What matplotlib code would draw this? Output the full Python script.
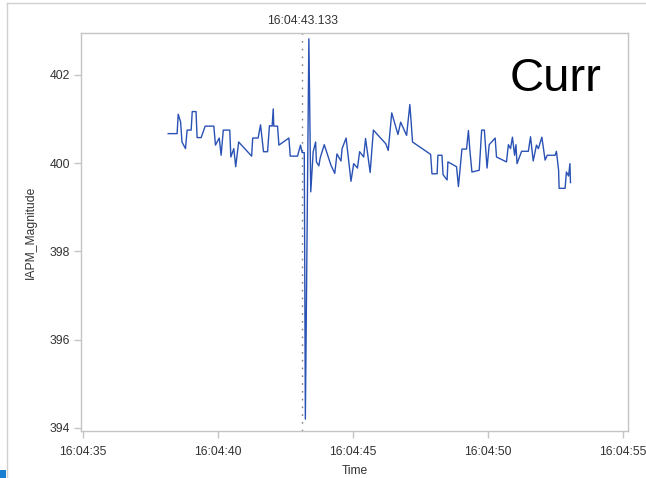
import matplotlib.pyplot as plt
from matplotlib.ticker import FuncFormatter, FixedLocator
from matplotlib.patches import Rectangle
from matplotlib.lines import Line2D

plt.rcParams['font.family'] = ['Liberation Sans', 'DejaVu Sans']

# sample times, seconds past 16:04:00
secs = [38.16, 38.49, 38.53, 38.62, 38.67, 38.80, 38.86, 39.01, 39.05, 39.19,
        39.23, 39.38, 39.53, 39.85, 39.91, 40.05, 40.12, 40.20, 40.44, 40.48,
        40.59, 40.66, 40.77, 41.25, 41.29, 41.49, 41.58, 41.69, 41.84, 41.91,
        42.01, 42.05, 42.07, 42.21, 42.26, 42.63, 42.68, 42.95, 43.06, 43.12,
        43.20, 43.24, 43.37, 43.44, 43.53, 43.62, 43.65, 43.74, 43.79, 43.94,
        44.19, 44.33, 44.41, 44.56, 44.60, 44.75, 44.93, 45.03, 45.17, 45.25,
        45.40, 45.47, 45.64, 45.76, 46.22, 46.31, 46.44, 46.67, 46.77, 46.99,
        47.11, 47.16, 47.21, 47.88, 47.93, 48.12, 48.15, 48.30, 48.34, 48.49,
        48.52, 48.84, 48.91, 49.04, 49.21, 49.28, 49.33, 49.41, 49.68, 49.77,
        49.87, 49.97, 50.05, 50.27, 50.32, 50.69, 50.76, 50.84, 50.91, 50.99,
        51.04, 51.08, 51.25, 51.50, 51.58, 51.68, 51.80, 51.87, 52.00, 52.12,
        52.20, 52.49, 52.54, 52.62, 52.64, 52.86, 52.91, 52.99, 53.04, 53.06]

# IAPM magnitude (A)
iapm = [400.67, 400.67, 401.11, 400.93, 400.48, 400.33, 400.75, 400.75, 401.17, 401.17,
        400.58, 400.58, 400.84, 400.84, 400.41, 400.57, 400.18, 400.75, 400.75, 400.14,
        400.33, 399.92, 400.48, 400.16, 400.57, 400.57, 400.87, 400.26, 400.26, 400.85,
        400.84, 401.23, 400.84, 400.84, 400.41, 400.57, 400.16, 400.16, 400.41, 400.24,
        400.24, 394.20, 402.82, 399.35, 400.26, 400.48, 400.03, 399.94, 400.12, 400.42,
        399.95, 399.77, 400.21, 400.05, 400.33, 400.57, 399.59, 399.99, 399.89, 400.26,
        400.14, 400.56, 399.79, 400.75, 400.44, 400.29, 401.14, 400.65, 400.93, 400.63,
        401.33, 400.92, 400.48, 400.20, 399.76, 399.76, 400.18, 400.18, 399.74, 399.62,
        400.03, 399.92, 399.47, 400.32, 400.32, 400.74, 400.32, 399.80, 399.84, 400.75,
        400.75, 399.89, 400.42, 400.57, 400.14, 400.03, 400.42, 400.33, 400.59, 400.18,
        400.42, 399.99, 400.27, 400.27, 400.60, 400.05, 400.41, 400.33, 400.59, 400.07,
        400.18, 400.18, 400.27, 399.84, 399.43, 399.43, 399.80, 399.71, 399.99, 399.56]

event_sec = 43.133
event_label = '16:04:43.133'
x_ticks = [35, 40, 45, 50, 55]
y_ticks = [394, 396, 398, 400, 402]

frame = '#c4c4c4'
text_col = '#333333'

fig = plt.figure(figsize=(6.46, 4.78), dpi=100)
ax = fig.add_axes([0.1254, 0.0983, 0.8467, 0.8326])

ax.plot(secs, iapm, color='#2a52b4', lw=1.0, zorder=3)

# event marker
ax.axvline(event_sec, color='#808080', lw=1.0, linestyle=(0, (1.2, 4.4)), zorder=2)
ax.text(event_sec, 1.03, event_label, transform=ax.get_xaxis_transform(),
        ha='center', va='center', fontsize=8.7, color=text_col)

ax.text(0.952, 0.885, 'Curr', transform=ax.transAxes, ha='right', va='center',
        fontsize=34, color='black')

ax.set_xlim(34.93, 55.19)
ax.set_ylim(393.93, 402.95)
ax.xaxis.set_major_locator(FixedLocator(x_ticks))
ax.yaxis.set_major_locator(FixedLocator(y_ticks))
ax.xaxis.set_major_formatter(FuncFormatter(lambda v, p: '16:04:%02d' % round(v)))
ax.yaxis.set_major_formatter(FuncFormatter(lambda v, p: '%d' % round(v)))

for s in ax.spines.values():
    s.set_color(frame)
    s.set_linewidth(1.0)
ax.tick_params(colors=frame, labelcolor=text_col, labelsize=8.7, length=5, width=1,
               direction='out')
ax.tick_params(axis='x', pad=6)
ax.tick_params(axis='y', pad=3)

ax.set_xlabel('Time', fontsize=8.7, color=text_col, labelpad=5)
ax.set_ylabel('IAPM_Magnitude', fontsize=8.7, color=text_col, labelpad=9)

# window border around the panel
fig.add_artist(Line2D([7 / 646, 1], [1 - 3 / 478, 1 - 3 / 478], color='#d0d0d0', lw=1.0))
fig.add_artist(Line2D([7 / 646, 7 / 646], [0, 1 - 3 / 478], color='#d0d0d0', lw=1.0))
fig.add_artist(Rectangle((0, 0), 6 / 646, 8 / 478, color='#1a7fd0', lw=0))

fig.savefig('out.png', dpi=100)
